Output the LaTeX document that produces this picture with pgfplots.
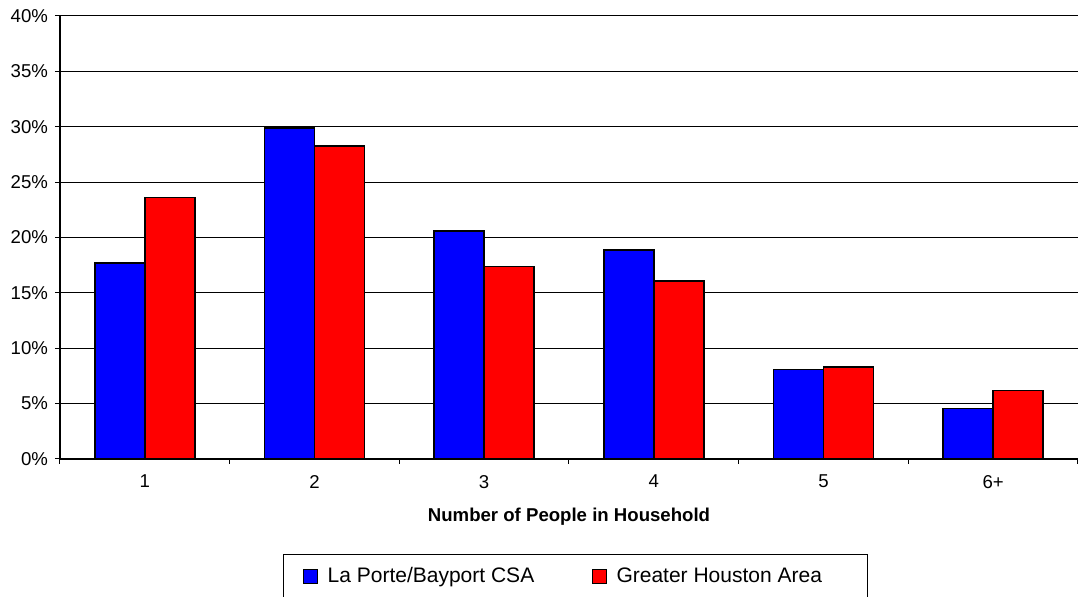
\documentclass[border=0pt]{standalone}
\usepackage{fontspec}
\setmainfont{Liberation Sans}
\usepackage{pgfplots}
\pgfplotsset{compat=1.18}
\definecolor{barblue}{RGB}{0,0,255}
\definecolor{barred}{RGB}{255,0,0}
\begin{document}
\begin{tikzpicture}
\begin{axis}[
    at={(0pt,0pt)}, anchor=south west,
    scale only axis,
    width=509pt, height=221.5pt,
    xmin=-0.5, xmax=5.5,
    ymin=0, ymax=40,
    axis lines*=left,
    axis line style={black, line width=0.6pt},
    ybar=0pt, bar width=25pt,
    ytick={0,5,...,40},
    yticklabels={0\%,5\%,10\%,15\%,20\%,25\%,30\%,35\%,40\%},
    xtick={0,...,5},
    xticklabels={1,2,3,4,5,6+},
    minor xtick={-0.5,0.5,...,5.5},
    major x tick style={draw=none},
    tick align=outside,
    tick style={black, line width=0.5pt},
    major tick length=2.5pt, minor tick length=2.5pt,
    ymajorgrids,
    major grid style={black, line width=0.5pt},
    tick label style={font=\fontsize{9.3}{11}\selectfont},
    x tick label style={yshift=-2pt},
    xlabel={\textbf{Number of People in Household}},
    xlabel style={font=\fontsize{9.3}{11}\selectfont, yshift=-3pt},
    legend columns=2,
    legend style={at={(0.219,-0.2145)}, anchor=north west, draw=black, line width=0.5pt,
        font=\fontsize{10.5}{12}\selectfont, inner xsep=10pt, inner ysep=4.5pt,
        /tikz/every even column/.append style={column sep=27pt}},
    legend image code/.code={%
        \draw[#1, draw=black, line width=0.5pt] (0pt,-3.5pt) rectangle (7pt,3.5pt);
        \path (9.5pt,0pt);},
]
\addplot [fill=barblue, draw=black, line width=0.75pt]
    coordinates {(0,17.7) (1,29.9) (2,20.6) (3,18.85) (4,8.1) (5,4.56)};
\addlegendentry{La Porte/Bayport CSA}
\addplot [fill=barred, draw=black, line width=0.75pt]
    coordinates {(0,23.6) (1,28.25) (2,17.37) (3,16.05) (4,8.29) (5,6.19)};
\addlegendentry{Greater Houston Area\rule{11pt}{0pt}}
\end{axis}
\pgfresetboundingbox
\path (-30pt,-69pt) rectangle (509pt,229.5pt);
\end{tikzpicture}
\end{document}
